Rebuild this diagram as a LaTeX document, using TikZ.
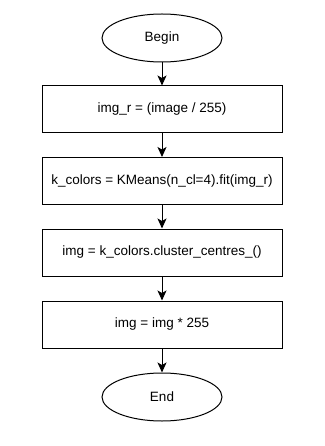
\documentclass[tikz,border=0pt]{standalone}
\usepackage{fontspec}
\setmainfont{Liberation Sans}
\usetikzlibrary{arrows.meta,positioning,shapes.geometric}

\tikzset{
  term/.style={draw, line width=1pt, ellipse, minimum width=120pt, minimum height=48pt, inner sep=0pt, font=\fontsize{13.5pt}{16pt}\selectfont},
  proc/.style={draw, line width=1pt, rectangle, minimum width=240pt, minimum height=47pt, inner sep=0pt, font=\fontsize{13.5pt}{16pt}\selectfont},
  flow/.style={line width=1pt, -{Stealth[length=10pt,width=9pt,inset=2.5pt]}}
}

\begin{document}
\begin{tikzpicture}[x=1pt,y=-1pt]
\useasboundingbox (0,0) rectangle (324,446);
\node[term] (begin) at (162,38) {Begin};
\node[proc] (scale) at (162,109.5) {img\_r = (image / 255)};
\node[proc] (kmeans) at (162,181) {k\_colors = KMeans(n\_cl=4).fit(img\_r)};
\node[proc] (centres) at (162,252.5) {img = k\_colors.cluster\_centres\_()};
\node[proc] (rescale) at (162,324.5) {img = img * 255};
\node[term] (end) at (162,397) {End};
\draw[flow] (begin) -- (scale);
\draw[flow] (scale) -- (kmeans);
\draw[flow] (kmeans) -- (centres);
\draw[flow] (centres) -- (rescale);
\draw[flow] (rescale) -- (end);
\end{tikzpicture}
\end{document}
